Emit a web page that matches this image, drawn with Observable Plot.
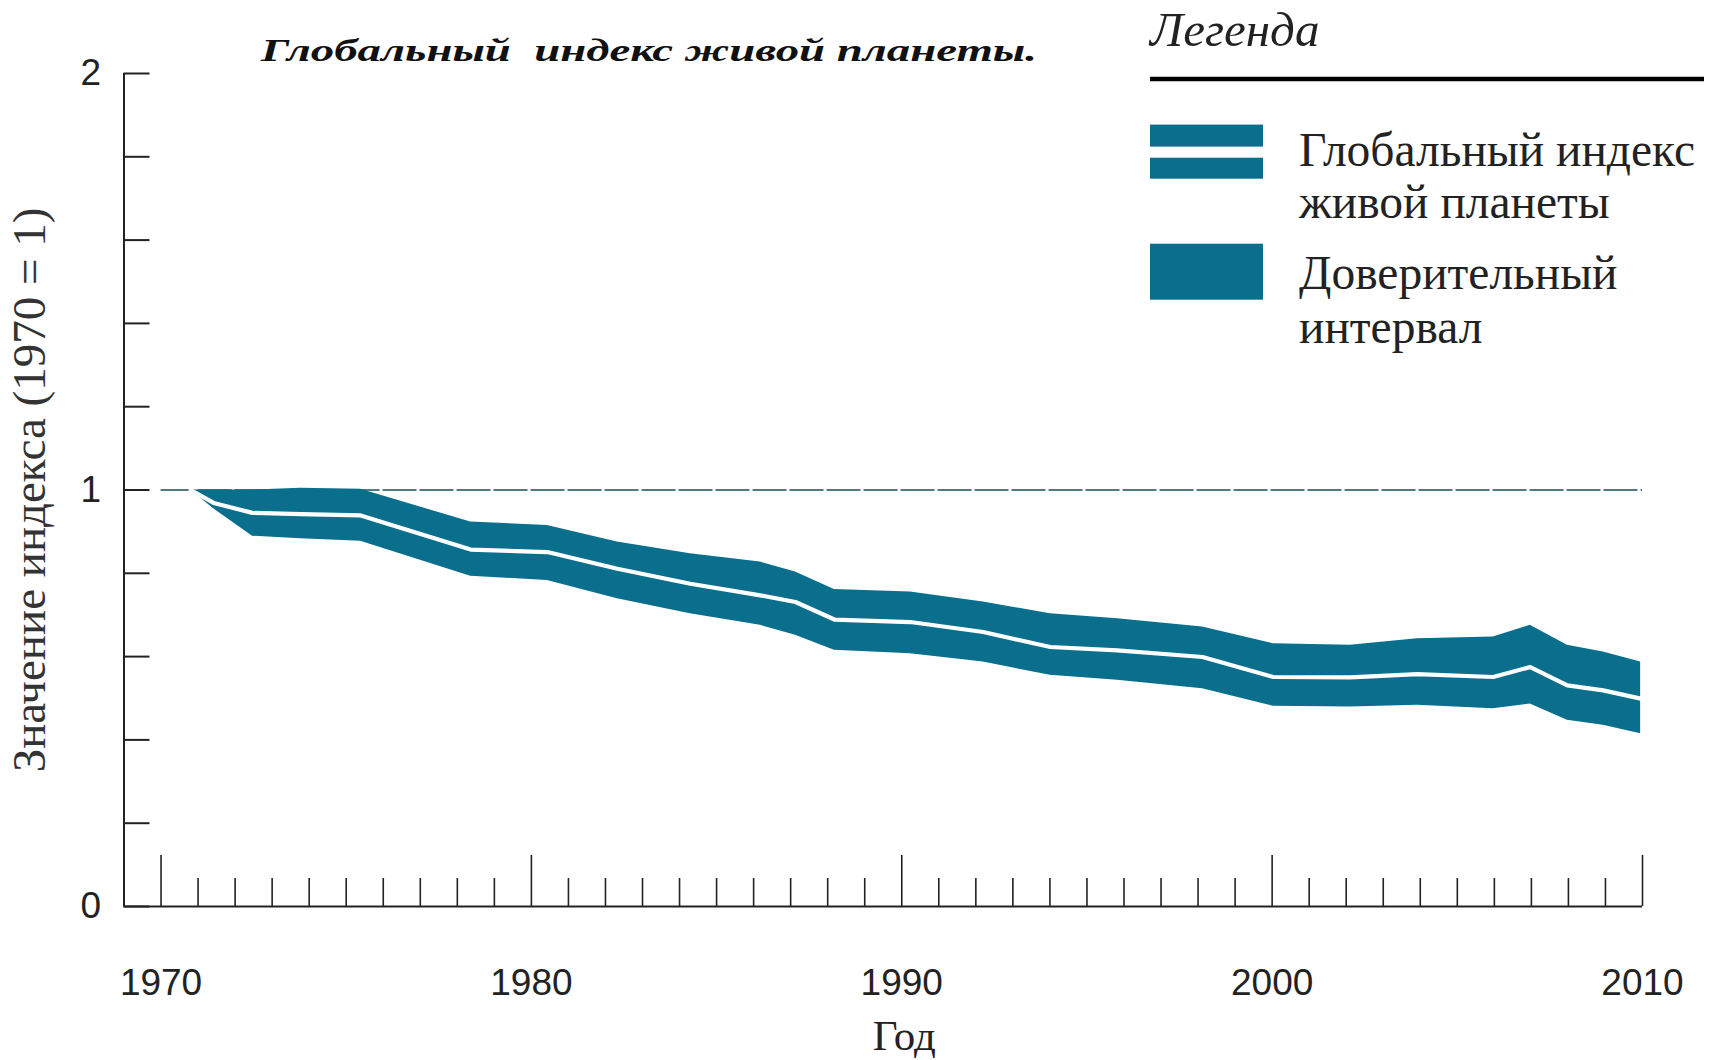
<!DOCTYPE html>
<html><head><meta charset="utf-8">
<script src="https://cdn.jsdelivr.net/npm/d3@7"></script>
<script src="https://cdn.jsdelivr.net/npm/@observablehq/plot@0.6"></script>
<style>
html,body{margin:0;padding:0;background:#fff;}
#wrap{position:relative;width:1729px;height:1060px;overflow:hidden;background:#fff;}
#wrap svg{position:absolute;left:0;top:0;}
</style></head><body><div id="wrap"></div>
<script>
// ---- data ----
const years = [1970.80, 1971.42, 1972.47, 1973.77, 1975.39, 1978.36, 1980.43, 1982.32, 1984.29, 1986.18, 1987.13, 1988.18, 1990.23, 1992.20, 1994.01, 1995.82, 1998.12, 2000.03, 2002.11, 2003.92, 2005.97, 2006.97, 2007.97, 2008.94, 2009.95];
const indexValues = [1.000, 0.969, 0.945, 0.942, 0.939, 0.857, 0.851, 0.811, 0.775, 0.747, 0.731, 0.689, 0.683, 0.659, 0.623, 0.615, 0.599, 0.551, 0.550, 0.558, 0.551, 0.575, 0.531, 0.519, 0.499];
const lowerValues = [1.000, 0.955, 0.889, 0.883, 0.877, 0.793, 0.783, 0.739, 0.703, 0.675, 0.651, 0.615, 0.607, 0.587, 0.555, 0.543, 0.523, 0.481, 0.479, 0.483, 0.475, 0.486, 0.447, 0.435, 0.415];
const upperValues = [1.000, 1.000, 1.000, 1.004, 1.002, 0.923, 0.915, 0.875, 0.847, 0.827, 0.803, 0.761, 0.755, 0.731, 0.703, 0.691, 0.671, 0.631, 0.627, 0.643, 0.647, 0.675, 0.627, 0.611, 0.587];

const refLine = {value: 1, from: 1970, to: 2010};
const xDomain = [1969, 2010];
const yDomain = [0, 2];
const yTickValues = [0, 0.2, 0.4, 0.6, 0.8, 1, 1.2, 1.4, 1.6, 1.8, 2];
const yTickLabels = [0, 1, 2];
const xMajorTicks = [1970, 1980, 1990, 2000, 2010];
const xMinorTicks = d3.range(1971, 2010).filter(y => y % 10 !== 0);

const titleText = "Глобальный  индекс живой планеты.";
const xTitle = "Год";
const yTitle = "Значение индекса (1970 = 1)";
const legendTitle = "Легенда";
const legendIndexLines = ["Глобальный индекс", "живой планеты"];
const legendCILines = ["Доверительный", "интервал"];

const teal = "#0a6e8d";
const ink = "#222";
const serif = "'Liberation Serif', 'Times New Roman', serif";
const sans = "'Liberation Sans', Arial, sans-serif";

const data = years.map((y, i) => ({year: y, lo: lowerValues[i], mid: indexValues[i], hi: upperValues[i]}));

const chart = Plot.plot({
  width: 1729,
  height: 1060,
  marginLeft: 123.5,
  marginRight: 87,
  marginTop: 73,
  marginBottom: 154,
  x: {domain: xDomain, label: null},
  y: {domain: yDomain, label: null},
  style: {background: "white", fontFamily: sans, color: ink, overflow: "visible"},
  marks: [
    Plot.ruleY([refLine.value], {x1: refLine.from, x2: refLine.to, stroke: "#1d4d55", strokeWidth: 1.3, strokeDasharray: "34,3"}),
    Plot.areaY(data, {x: "year", y1: "lo", y2: "hi", fill: teal}),
    Plot.lineY(data, {x: "year", y: "mid", stroke: "white", strokeWidth: 4.2}),
    Plot.ruleY([yDomain[0]], {stroke: ink, strokeWidth: 2}),
    Plot.ruleX([xDomain[0]], {stroke: ink, strokeWidth: 2}),
    Plot.axisY({ticks: yTickValues, tickSize: -26, tickFormat: () => "", strokeWidth: 2, color: ink, label: null}),
    Plot.axisY({ticks: yTickLabels, tickSize: 0, tickPadding: 23, fontSize: 37, color: ink, tickFormat: d => String(d), label: null}),
    Plot.axisX({ticks: xMinorTicks, tickSize: -28, tickFormat: () => "", strokeWidth: 1.6, color: ink, label: null}),
    Plot.axisX({ticks: xMajorTicks, tickSize: -51, tickFormat: () => "", strokeWidth: 1.6, color: ink, label: null}),
    Plot.axisX({ticks: xMajorTicks, tickSize: 0, tickPadding: 62, fontSize: 37, color: ink, tickFormat: d => String(d), label: null}),
    Plot.text([xTitle], {frameAnchor: "bottom", dx: 21, dy: 143, fontSize: 43, fontFamily: serif, fill: ink}),
    Plot.text([yTitle], {frameAnchor: "left", textAnchor: "middle", rotate: -90, dx: -94, fontSize: 47, fontFamily: serif, fill: "#333"})
  ]
});
const wrap = document.getElementById("wrap");
wrap.appendChild(chart);

// ---- overlay: title and legend ----
const ov = d3.select(wrap).append("svg")
  .attr("width", 1729).attr("height", 1060)
  .style("pointer-events", "none");

ov.append("text")
  .attr("x", 261).attr("y", 61)
  .attr("textLength", 776).attr("lengthAdjust", "spacingAndGlyphs")
  .style("white-space", "pre")
  .attr("font-family", serif).attr("font-style", "italic").attr("font-weight", "bold")
  .attr("font-size", 32).attr("fill", "#111")
  .text(titleText);

ov.append("text")
  .attr("x", 1150).attr("y", 46)
  .attr("font-family", serif).attr("font-style", "italic")
  .attr("font-size", 49).attr("fill", ink)
  .text(legendTitle);

ov.append("line")
  .attr("x1", 1150).attr("x2", 1704).attr("y1", 79).attr("y2", 79)
  .attr("stroke", "#000").attr("stroke-width", 4.5);

ov.append("rect").attr("x", 1150).attr("y", 124.6).attr("width", 113).attr("height", 22).attr("fill", teal);
ov.append("rect").attr("x", 1150).attr("y", 157.7).attr("width", 113).attr("height", 21).attr("fill", teal);
ov.append("rect").attr("x", 1150).attr("y", 243.7).attr("width", 113).attr("height", 56).attr("fill", teal);

const legendText = [
  [legendIndexLines[0], 166],
  [legendIndexLines[1], 218],
  [legendCILines[0], 289],
  [legendCILines[1], 343]
];
ov.selectAll("text.leg").data(legendText).join("text")
  .attr("class", "leg")
  .attr("x", 1299).attr("y", d => d[1])
  .attr("font-family", serif).attr("font-size", 47.5).attr("fill", ink)
  .text(d => d[0]);
</script>
</body></html>
